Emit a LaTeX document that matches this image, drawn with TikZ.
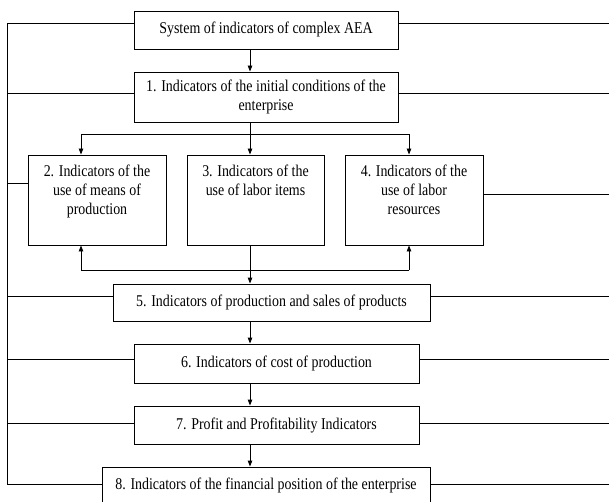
\documentclass[tikz,border=0pt]{standalone}
\usepackage{fontspec}
\setmainfont{Liberation Serif}[FakeStretch=0.85]
\usetikzlibrary{arrows.meta}
\begin{document}
\begin{tikzpicture}[x=1pt,y=-1pt,
  box/.style={draw, line width=0.9pt, inner sep=0pt, font=\fontsize{16.4}{19.5}\selectfont, align=center},
  txt/.style={inner sep=0pt, font=\fontsize{16.4}{19}\selectfont, align=center, anchor=north},
  ln/.style={line width=0.9pt},
  arr/.style={ln, -{Triangle[length=6pt,width=4.5pt]}}]
\useasboundingbox (0,0) rectangle (609,502);
\fill[white] (0,0) rectangle (609,502);
% boxes
\node[box, minimum width=264, minimum height=38] (b0) at (266,30) {System of indicators of complex AEA};
\node[box, minimum width=264, minimum height=50] (b1) at (266,97) {1. Indicators of the initial conditions of the\\enterprise};
\node[box, minimum width=138, minimum height=90] (b2) at (97,200) {};
\node[box, minimum width=137, minimum height=90] (b3) at (255.5,200) {};
\node[box, minimum width=138, minimum height=90] (b4) at (414,200) {};
\node[txt] (t2) at ([yshift=-10pt]b2.north) {2. Indicators of the\\use of means of\\production};
\node[txt] (t3) at ([yshift=-10pt]b3.north) {3. Indicators of the\\use of labor items};
\node[txt] (t4) at ([yshift=-10pt]b4.north) {4. Indicators of the\\use of labor\\resources};
\node[box, minimum width=317, minimum height=37] (b5) at (271.5,302.5) {5. Indicators of production and sales of products};
\node[box, minimum width=285, minimum height=39] (b6) at (276.5,363.5) {6. Indicators of cost of production};
\node[box, minimum width=285, minimum height=38] (b7) at (276.5,425) {7. Profit and Profitability Indicators};
\node[box, minimum width=328, minimum height=37] (b8) at (266,485.5) {8. Indicators of the financial position of the enterprise};
% rail coordinates
\coordinate (sp) at (250,0);
\coordinate (cl) at (81,0);
\coordinate (cr) at (409,0);
\coordinate (ltop) at (7,23);
\coordinate (lbot) at (7,484);
% left rail
\draw[ln] (b0.west |- ltop) -- (ltop) -- (lbot) -- (b8.west |- lbot);
\draw[ln] (b1.west |- 0,93) -- (7,93);
\draw[ln] (b2.west |- 0,183) -- (7,183);
\draw[ln] (b5.west |- 0,296) -- (7,296);
\draw[ln] (b6.west |- 0,359) -- (7,359);
\draw[ln] (b7.west |- 0,423) -- (7,423);
% right lines
\draw[ln] (b0.east |- 0,23) -- (609,23);
\draw[ln] (b1.east |- 0,93) -- (609,93);
\draw[ln] (b4.east |- 0,194) -- (609,194);
\draw[ln] (b5.east |- 0,296) -- (609,296);
\draw[ln] (b6.east |- 0,359) -- (609,359);
\draw[ln] (b7.east |- 0,423) -- (609,423);
\draw[ln] (b8.east |- 0,484) -- (609,484);
% spine and buses
\coordinate (bt) at (250,134);
\coordinate (bb) at (250,270);
\draw[arr] (b0.south -| sp) -- (b1.north -| sp);
\draw[ln] (b1.south -| sp) -- (bt);
\draw[ln] (cl |- bt) -- (cr |- bt);
\draw[arr] (cl |- bt) -- (b2.north -| cl);
\draw[arr] (bt) -- (b3.north -| sp);
\draw[arr] (cr |- bt) -- (b4.north -| cr);
\draw[arr] (b3.south -| sp) -- (b5.north -| sp);
\draw[ln] (cl |- bb) -- (cr |- bb);
\draw[arr] (cl |- bb) -- (b2.south -| cl);
\draw[arr] (cr |- bb) -- (b4.south -| cr);
\draw[arr] (b5.south -| sp) -- (b6.north -| sp);
\draw[arr] (b6.south -| sp) -- (b7.north -| sp);
\draw[arr] (b7.south -| sp) -- (b8.north -| sp);
\end{tikzpicture}
\end{document}
